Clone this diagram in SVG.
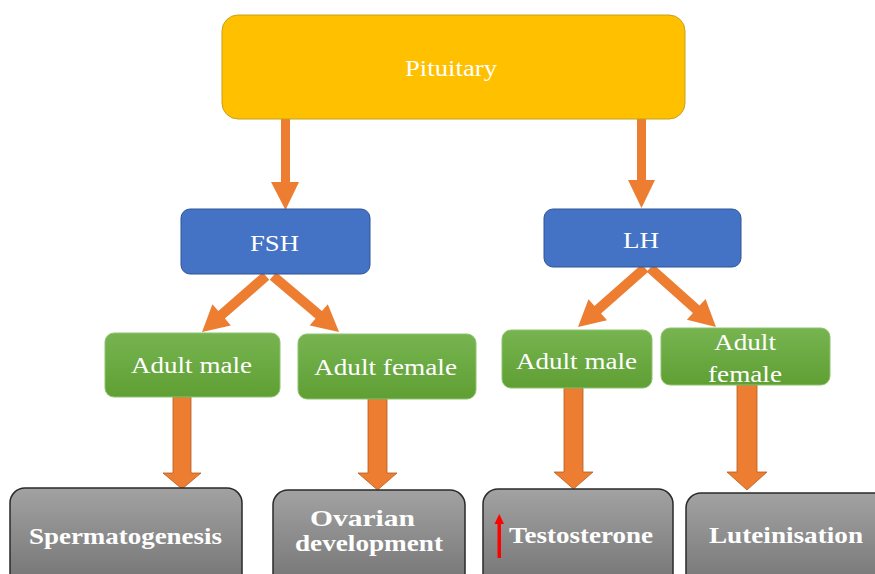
<svg xmlns="http://www.w3.org/2000/svg" width="875" height="574" viewBox="0 0 875 574">
<defs>
<linearGradient id="gGreen" x1="0" y1="0" x2="0" y2="1"><stop offset="0" stop-color="#77B451"/><stop offset="1" stop-color="#5F9F33"/></linearGradient>
<linearGradient id="gGray" x1="0" y1="0" x2="0" y2="1"><stop offset="0" stop-color="#A2A2A2"/><stop offset="1" stop-color="#6E6E6E"/></linearGradient>
<style>
.t{font-family:"Liberation Serif","Times New Roman",serif;fill:#fff;text-anchor:middle;font-size:23.5px}
.b{font-weight:bold;font-size:23.5px}
.pit{fill:#FFC000;stroke:#C9A019;stroke-width:1}
.blue{fill:#4472C4;stroke:#2F5597;stroke-width:1}
.green{fill:url(#gGreen);stroke:#8CC46C;stroke-width:1}
.gray{fill:url(#gGray);stroke:#2A2A2A;stroke-width:1.5}
.arr{fill:#ED7D31}
.fat{fill:#ED7D31;stroke:#B65C20;stroke-width:0.8}
</style>
</defs>
<rect width="875" height="574" fill="#fff"/>
<g id="connectors">
<polygon class="arr" points="281,119 290,119 290,182 299,182 285.5,210 271,182 281,182"/>
<polygon class="arr" points="637,119 646,119 646,180 655,180 641.5,208 628,180 637,180"/>
<polygon class="arr" transform="translate(266 276) rotate(138.8)" points="0,-5 59,-5 59,-14 85,0 59,14 59,5 0,5"/>
<polygon class="arr" transform="translate(273 276) rotate(40.3)" points="0,-5 60,-5 60,-14 86.6,0 60,14 60,5 0,5"/>
<polygon class="arr" transform="translate(645 268) rotate(138.6)" points="0,-5 63,-5 63,-14 89.3,0 63,14 63,5 0,5"/>
<polygon class="arr" transform="translate(650 268) rotate(41.8)" points="0,-5 62,-5 62,-14 88.5,0 62,14 62,5 0,5"/>
<polygon class="fat" points="173,397 191,397 191,473 201,473 182,489 163,473 173,473"/>
<polygon class="fat" points="368,399 387,399 387,473 397,473 377.5,490 358,473 368,473"/>
<polygon class="fat" points="564,388 583,388 583,472 593,472 573.5,489 554,472 564,472"/>
<polygon class="fat" points="737,385 757,385 757,472 767,472 747,490 727,472 737,472"/>
</g>
<g id="pituitary">
<rect class="pit" x="222" y="15" width="463" height="104" rx="16"/>
<text class="t" x="451" y="76" textLength="92" lengthAdjust="spacingAndGlyphs">Pituitary</text>
</g>
<g id="fsh">
<rect class="blue" x="181" y="209" width="189" height="65" rx="9"/>
<text class="t" x="274.5" y="251" textLength="49" lengthAdjust="spacingAndGlyphs">FSH</text>
</g>
<g id="lh">
<rect class="blue" x="544" y="209" width="197" height="58" rx="9"/>
<text class="t" x="641" y="248" textLength="36" lengthAdjust="spacingAndGlyphs">LH</text>
</g>
<g id="fsh-male">
<rect class="green" x="105" y="333" width="175" height="64" rx="9"/>
<text class="t" x="191.5" y="373" textLength="121" lengthAdjust="spacingAndGlyphs">Adult male</text>
</g>
<g id="fsh-female">
<rect class="green" x="298" y="334" width="178" height="65" rx="9"/>
<text class="t" x="385.5" y="375" textLength="143" lengthAdjust="spacingAndGlyphs">Adult female</text>
</g>
<g id="lh-male">
<rect class="green" x="502" y="330" width="150" height="58" rx="9"/>
<text class="t" x="576.5" y="369" textLength="121" lengthAdjust="spacingAndGlyphs">Adult male</text>
</g>
<g id="lh-female">
<rect class="green" x="661" y="328" width="169" height="57" rx="9"/>
<text class="t" x="745" y="350" textLength="62" lengthAdjust="spacingAndGlyphs">Adult</text>
<text class="t" x="745" y="382" textLength="74" lengthAdjust="spacingAndGlyphs">female</text>
</g>
<g id="spermatogenesis">
<rect class="gray" x="10" y="488" width="232" height="110" rx="15"/>
<text class="t b" x="125.5" y="544" textLength="193" lengthAdjust="spacingAndGlyphs">Spermatogenesis</text>
</g>
<g id="ovarian">
<rect class="gray" x="273" y="490" width="192" height="110" rx="15"/>
<text class="t b" x="362.5" y="526" textLength="105" lengthAdjust="spacingAndGlyphs">Ovarian</text>
<text class="t b" x="369" y="551" textLength="148" lengthAdjust="spacingAndGlyphs">development</text>
</g>
<g id="testosterone">
<rect class="gray" x="483" y="489" width="190" height="110" rx="15"/>
<polygon fill="#FF0000" points="497.5,523 501,523 501,558 497.5,558"/>
<polygon fill="#FF0000" points="494.5,524 499.25,514 504,524"/>
<text class="t b" x="581" y="543" textLength="144" lengthAdjust="spacingAndGlyphs">Testosterone</text>
</g>
<g id="luteinisation">
<rect class="gray" x="686" y="493" width="210" height="110" rx="15"/>
<text class="t b" x="786" y="543" textLength="154" lengthAdjust="spacingAndGlyphs">Luteinisation</text>
</g>
</svg>
